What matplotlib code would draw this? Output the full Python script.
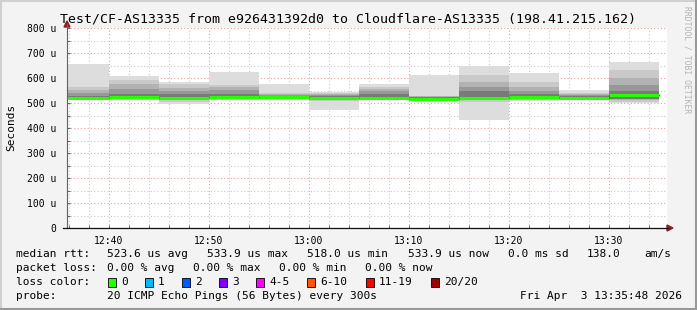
import numpy as np
import matplotlib.pyplot as plt
from matplotlib.patches import Rectangle, Polygon
from matplotlib.lines import Line2D

# smokeping style latency graph, values in microseconds

W, H = 697, 310
MONO = "DejaVu Sans Mono"

# start of each 5 minute step
step_start = ["12:35", "12:40", "12:45", "12:50", "12:55", "13:00",
              "13:05", "13:10", "13:15", "13:20", "13:25", "13:30"]
median = [522, 525, 522, 524, 526, 522, 520, 518, 520, 523, 522, 533.9]

# smoke layers (outer -> inner): lower and upper edge
ping_min = [513, 511, 496, 511, 514, 472, 512, 508, 434, 509, 513, 499]
ping_max = [656, 608, 583, 625, 576, 545, 576, 612, 648, 620, 552, 664]
l2_lo = [515, 513, 506, 513, 516, 508, 513, 510, 505, 511, 513, 506]
l2_hi = [563, 592, 575, 572, 540, 540, 563, 530, 613, 583, 540, 632]
l3_lo = [516, 515, 512, 515, 518, 512, 515, 512, 511, 513, 514, 512]
l3_hi = [552, 578, 560, 563, 535, 537, 556, 527, 585, 565, 535, 600]
l4_lo = [517, 516, 514, 517, 519, 514, 516, 514, 513, 515, 515, 515]
l4_hi = [540, 558, 548, 552, 532, 534, 548, 525, 565, 550, 532, 572]
l5_lo = [518, 518, 516, 519, 520, 516, 517, 515, 515, 517, 517, 518]
l5_hi = [530, 538, 535, 538, 530, 530, 535, 523, 550, 537, 528, 548]

layer_colors = ["#dddddd", "#c9c9c9", "#b2b2b2", "#989898", "#7a7a7a"]

x_ticks = ["12:40", "12:50", "13:00", "13:10", "13:20", "13:30"]
y_ticks = [0, 100, 200, 300, 400, 500, 600, 700, 800]

loss_labels = ["0", "1", "2", "3", "4-5", "6-10", "11-19", "20/20"]
loss_colors = ["#26ff00", "#00b8ff", "#0059ff", "#7e00ff", "#ff00ff",
               "#ff5500", "#ff0000", "#a00000"]
loss_x = [108, 145, 182, 219, 256, 307, 366, 431]


def minutes(s):
    h, m = s.split(":")
    return (int(h) - 12) * 60 + int(m)


def px(x, y):
    # pixel position (from top left) -> figure fraction
    return x / W, 1 - y / H


t0 = np.array([minutes(s) for s in step_start])
t_left, t_right = 35.8, 95.8  # 12:35:48 .. 13:35:48

fig = plt.figure(figsize=(W / 100, H / 100), dpi=100, facecolor="#f3f3f3")
ax = fig.add_axes([67 / W, 82 / H, 600 / W, 200 / H])
ax.set_facecolor("white")

layers = [(ping_min, ping_max), (l2_lo, l2_hi), (l3_lo, l3_hi),
          (l4_lo, l4_hi), (l5_lo, l5_hi)]
for (lo, hi), c in zip(layers, layer_colors):
    lo = np.array(lo)
    hi = np.array(hi)
    ax.bar(t0, hi - lo, bottom=lo, width=5, align="edge", color=c,
           linewidth=0, zorder=2)

# median: thin dark step line, then loss coloured segments on top
ts = np.append(t0, t0[-1] + 5)
ms = np.append(median, median[-1])
ax.step(ts, ms, where="post", color="#202020", lw=0.8, zorder=3)
ax.hlines(median, t0, t0 + 5, color=loss_colors[0], lw=2.2, zorder=4)

ax.set_xlim(t_left, t_right)
ax.set_ylim(0, 800)

ax.set_xticks([minutes(s) for s in x_ticks])
ax.set_xticklabels(x_ticks)
ax.set_xticks(np.arange(36, 96, 2), minor=True)
ax.set_yticks(y_ticks)
ax.set_yticklabels([f"{v} u" if v else "0" for v in y_ticks])
ax.set_yticks(np.arange(50, 800, 100), minor=True)

ax.grid(which="minor", color="#c8c8c8", linestyle=(0, (1, 2)), lw=0.8, zorder=1)
ax.grid(which="major", color="#f29a9a", linestyle=(0, (1, 2)), lw=0.8, zorder=1)
ax.set_axisbelow(True)

ax.tick_params(which="both", direction="in", length=2, width=0.7,
               color="#606060")
ax.tick_params(axis="y", pad=8, labelsize=7)
ax.tick_params(axis="x", pad=6, labelsize=7)
for lab in ax.get_xticklabels() + ax.get_yticklabels():
    lab.set_fontfamily(MONO)
for s in ax.spines.values():
    s.set_visible(False)

# axis lines with arrow heads
fig.add_artist(Line2D([px(67, 0)[0]] * 2, [px(0, 228)[1], px(0, 24)[1]],
                      color="#606060", lw=0.8))
fig.add_artist(Line2D([px(63, 0)[0], px(668, 0)[0]], [px(0, 228)[1]] * 2,
                      color="#101010", lw=0.9))
fig.add_artist(Polygon([px(64, 27), px(70, 27), px(67, 21)], closed=True,
                       color="#902020"))
fig.add_artist(Polygon([px(667, 225), px(667, 231), px(673, 228)], closed=True,
                       color="#902020"))

fig.text(*px(348, 19), "Test/CF-AS13335 from e926431392d0 to Cloudflare-AS13335 (198.41.215.162)",
         ha="center", va="center", family=MONO, fontsize=9.5)
fig.text(*px(11, 127), "Seconds", rotation=90, ha="center", va="center",
         family=MONO, fontsize=8)
fig.text(*px(687, 60), "RRDTOOL / TOBI OETIKER", rotation=270, ha="center",
         va="center", family=MONO, fontsize=5.8, color="#b4b4b4")

# legend rows
row_y = [254, 268, 282, 296]
fs = 8
fig.text(*px(16, row_y[0]), "median rtt:", va="center", family=MONO, fontsize=fs)
for x, s in zip([107, 207, 307, 408, 508, 587, 644],
                ["523.6 us avg", "533.9 us max", "518.0 us min", "533.9 us now",
                 "0.0 ms sd", "138.0", "am/s"]):
    fig.text(*px(x, row_y[0]), s, va="center", family=MONO, fontsize=fs)

fig.text(*px(16, row_y[1]), "packet loss:", va="center", family=MONO, fontsize=fs)
for x, s in zip([107, 193, 279, 365],
                ["0.00 % avg", "0.00 % max", "0.00 % min", "0.00 % now"]):
    fig.text(*px(x, row_y[1]), s, va="center", family=MONO, fontsize=fs)

fig.text(*px(16, row_y[2]), "loss color:", va="center", family=MONO, fontsize=fs)
for x, lab, c in zip(loss_x, loss_labels, loss_colors):
    bx, by = px(x, row_y[2] + 4.5)
    fig.add_artist(Rectangle((bx, by), 8 / W, 9 / H, facecolor=c,
                             edgecolor="black", lw=0.6))
    fig.text(*px(x + 13, row_y[2]), lab, va="center", family=MONO, fontsize=fs)

fig.text(*px(16, row_y[3]), "probe:", va="center", family=MONO, fontsize=fs)
fig.text(*px(107, row_y[3]), "20 ICMP Echo Pings (56 Bytes) every 300s",
         va="center", family=MONO, fontsize=fs)
fig.text(*px(682, row_y[3]), "Fri Apr  3 13:35:48 2026", ha="right",
         va="center", family=MONO, fontsize=fs)

# frame around the image
fig.add_artist(Line2D([0, 1], [1 - 1 / H] * 2, color="#d0d0d0", lw=1.5))
fig.add_artist(Line2D([1 / W] * 2, [0, 1], color="#d0d0d0", lw=1.5))
fig.add_artist(Line2D([0, 1], [1 / H] * 2, color="#999999", lw=1.5))
fig.add_artist(Line2D([1 - 1 / W] * 2, [0, 1], color="#999999", lw=1.5))

fig.savefig("out.png", dpi=100, facecolor=fig.get_facecolor())
